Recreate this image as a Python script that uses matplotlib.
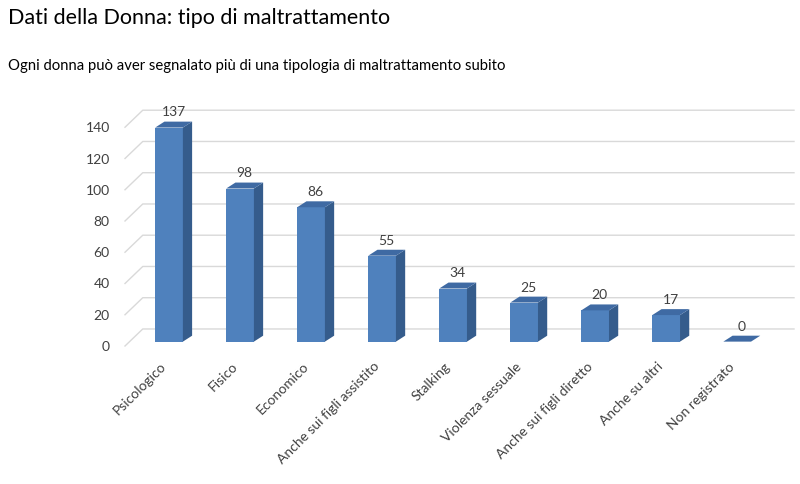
import matplotlib.pyplot as plt
from matplotlib.patches import Polygon
from matplotlib.transforms import ScaledTranslation
import numpy as np

plt.rcParams['font.family'] = ['Lato', 'DejaVu Sans']

# data
categories = ['Psicologico', 'Fisico', 'Economico', 'Anche sui figli assistito',
              'Stalking', 'Violenza sessuale', 'Anche sui figli diretto',
              'Anche su altri', 'Non registrato']
values = [137, 98, 86, 55, 34, 25, 20, 17, 0]
yticks = [0, 20, 40, 60, 80, 100, 120, 140]

front_col = '#4F81BD'
side_col = '#355C8C'
top_col = '#3F6AA3'
grid_col = '#D9D9D9'
text_col = '#404040'

fig = plt.figure(figsize=(8, 4.84), dpi=100)
ax = fig.add_axes([125 / 800, 138 / 484, 669 / 800, 250 / 484])
ax.set_xlim(-0.62, 8.8)
ax.set_ylim(0, 160)

x = np.arange(len(categories))
w = 0.39          # bar width (category units)
bdx, bdy = 0.13, 3.8   # bar depth offset
wdx, wdy = 0.25, 10.9  # wall depth offset
base = 2.8        # bars sit a bit inside the floor

# back wall gridlines with diagonal on the floor side
for t in yticks:
    ax.plot([-0.62, -0.62 + wdx, 8.8], [t, t + wdy, t + wdy],
            color=grid_col, lw=1, zorder=1, clip_on=False)

# bars: front, side and top faces
ax.bar(x, values, width=w, bottom=base, color=front_col, zorder=3)
for xi, v in zip(x, values):
    r = xi + w / 2
    l = xi - w / 2
    b = base
    h = v + base
    side = Polygon([(r, b), (r + bdx, b + bdy), (r + bdx, h + bdy), (r, h)],
                   closed=True, color=side_col, zorder=3, lw=0)
    top = Polygon([(l, h), (r, h), (r + bdx, h + bdy), (l + bdx, h + bdy)],
                  closed=True, color=top_col, zorder=3, lw=0)
    ax.add_patch(side)
    ax.add_patch(top)
    ax.text(xi + bdx / 2, h + bdy + 2.0, str(v), ha='center', va='bottom',
            fontsize=10, color=text_col, zorder=4)

ax.set_yticks(yticks)
ax.set_yticklabels([str(t) for t in yticks], fontsize=10, color=text_col)
ax.set_xticks(x)
ax.set_xticklabels(categories, rotation=45, ha='right', rotation_mode='anchor',
                   fontsize=10, color=text_col)
ax.tick_params(axis='both', length=0)
ax.tick_params(axis='y', pad=11)
ax.tick_params(axis='x', pad=6)
shift = ScaledTranslation(-9 / 100, -6 / 100, fig.dpi_scale_trans)
for lbl in ax.get_xticklabels():
    lbl.set_transform(lbl.get_transform() + shift)
for s in ax.spines.values():
    s.set_visible(False)
ax.patch.set_alpha(0)

fig.text(8 / 800, 1 - 18 / 484, 'Dati della Donna: tipo di maltrattamento',
         fontsize=15.5, va='center', ha='left', color='black')
fig.text(8 / 800, 1 - 66 / 484,
         'Ogni donna può aver segnalato più di una tipologia di maltrattamento subito',
         fontsize=10.7, va='center', ha='left', color='black')

fig.savefig('out.png', dpi=100)
